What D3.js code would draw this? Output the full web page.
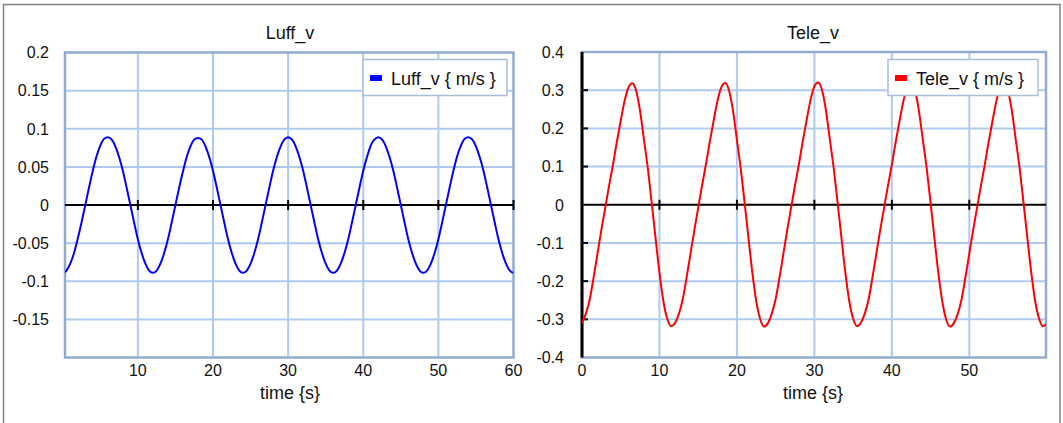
<!DOCTYPE html>
<html>
<head>
<meta charset="utf-8">
<script src="https://cdn.jsdelivr.net/npm/d3@7"></script>
<style>
  body { margin: 0; background: #fff; }
  svg { display: block; font-family: "Liberation Sans", Arial, sans-serif; }
</style>
</head>
<body>
<svg id="chart" width="1063" height="423"></svg>
<script>
// sample times, every 0.5 s from 0 to 60
var timeS = d3.range(0, 60.5, 0.5);

// Luff_v { m/s }
var luffV = [
  -0.089,-0.086,-0.077,-0.063,-0.044,-0.023,0.000,0.023,0.045,0.064,0.078,0.087,0.089,0.086,0.077,0.063,0.045,0.023,0.000,-0.023,-0.045,-0.063,-0.077,-0.086,
  -0.089,-0.086,-0.077,-0.063,-0.045,-0.023,0.000,0.023,0.044,0.063,0.077,0.086,0.088,0.086,0.077,0.063,0.045,0.023,0.000,-0.023,-0.045,-0.063,-0.077,-0.086,
  -0.089,-0.086,-0.077,-0.063,-0.045,-0.023,0.000,0.023,0.045,0.063,0.077,0.086,0.089,0.086,0.077,0.063,0.045,0.023,0.000,-0.023,-0.045,-0.063,-0.077,-0.086,
  -0.089,-0.086,-0.077,-0.063,-0.045,-0.023,0.000,0.023,0.045,0.063,0.078,0.086,0.089,0.086,0.077,0.063,0.045,0.023,0.000,-0.023,-0.045,-0.063,-0.077,-0.086,
  -0.089,-0.086,-0.077,-0.063,-0.045,-0.023,0.000,0.023,0.045,0.064,0.078,0.087,0.089,0.086,0.077,0.063,0.045,0.023,0.000,-0.023,-0.045,-0.063,-0.077,-0.086,
  -0.089
];

// Tele_v { m/s }
var teleV = [
  -0.309,-0.285,-0.248,-0.190,-0.128,-0.066,-0.008,0.050,0.105,0.165,0.220,0.272,0.307,0.318,0.298,0.245,0.170,0.095,0.005,-0.088,-0.178,-0.252,-0.298,-0.318,
  -0.310,-0.286,-0.248,-0.191,-0.129,-0.067,-0.008,0.050,0.106,0.165,0.221,0.273,0.308,0.319,0.298,0.245,0.170,0.094,0.004,-0.089,-0.179,-0.253,-0.299,-0.319,
  -0.310,-0.285,-0.247,-0.190,-0.128,-0.066,-0.007,0.051,0.106,0.166,0.222,0.274,0.310,0.320,0.299,0.246,0.170,0.095,0.005,-0.088,-0.178,-0.252,-0.298,-0.318,
  -0.309,-0.285,-0.248,-0.190,-0.128,-0.066,-0.008,0.050,0.105,0.165,0.220,0.272,0.307,0.318,0.298,0.245,0.170,0.095,0.005,-0.088,-0.178,-0.252,-0.299,-0.319,
  -0.310,-0.286,-0.248,-0.190,-0.128,-0.066,-0.008,0.050,0.105,0.165,0.220,0.272,0.307,0.318,0.298,0.245,0.170,0.095,0.005,-0.088,-0.178,-0.252,-0.298,-0.318,
  -0.312
];

var luffYTicks = [0.2, 0.15, 0.1, 0.05, 0, -0.05, -0.1, -0.15];
var luffXTicks = [10, 20, 30, 40, 50, 60];
var teleYTicks = [0.4, 0.3, 0.2, 0.1, 0, -0.1, -0.2, -0.3, -0.4];
var teleXTicks = [0, 10, 20, 30, 40, 50];

var svg = d3.select("#chart");

// outer frame of the window
svg.append("rect")
  .attr("x", 3.5).attr("y", 4.5)
  .attr("width", 1056.5).attr("height", 440)
  .attr("fill", "none")
  .attr("stroke", "#808080")
  .attr("stroke-width", 1.5);

function drawPanel(cfg) {
  var x = d3.scaleLinear().domain(cfg.xDomain).range([cfg.left, cfg.right]);
  var y = d3.scaleLinear().domain(cfg.yDomain).range([cfg.bottom, cfg.top]);
  var g = svg.append("g");

  g.append("clipPath").attr("id", cfg.id + "-clip")
    .append("rect")
    .attr("x", cfg.left).attr("y", cfg.top)
    .attr("width", cfg.right - cfg.left).attr("height", cfg.bottom - cfg.top);

  // grid
  var gridX = cfg.xTicks.filter(d => d > cfg.xDomain[0] && d < cfg.xDomain[1]);
  var gridY = cfg.yTicks.filter(d => d !== 0 && d > cfg.yDomain[0] && d < cfg.yDomain[1]);
  g.selectAll(".gx").data(gridX).join("line")
    .attr("x1", d => x(d)).attr("x2", d => x(d))
    .attr("y1", cfg.top).attr("y2", cfg.bottom)
    .attr("stroke", "#aecbef").attr("stroke-width", 2);
  g.selectAll(".gy").data(gridY).join("line")
    .attr("x1", cfg.left).attr("x2", cfg.right)
    .attr("y1", d => y(d)).attr("y2", d => y(d))
    .attr("stroke", "#aecbef").attr("stroke-width", 2);

  // plot border
  g.append("rect")
    .attr("x", cfg.left).attr("y", cfg.top)
    .attr("width", cfg.right - cfg.left).attr("height", cfg.bottom - cfg.top)
    .attr("fill", "none")
    .attr("stroke", "#93acce")
    .attr("stroke-width", 2.5);

  // zero line with its ticks
  g.append("line")
    .attr("x1", cfg.left).attr("x2", cfg.right)
    .attr("y1", y(0)).attr("y2", y(0))
    .attr("stroke", "#000").attr("stroke-width", 2);
  g.selectAll(".zt").data(cfg.xTicks.filter(d => d > cfg.xDomain[0])).join("line")
    .attr("x1", d => x(d)).attr("x2", d => x(d))
    .attr("y1", y(0) - 5).attr("y2", y(0) + 5)
    .attr("stroke", "#000").attr("stroke-width", 2);

  // vertical axis at t = 0 when it is in view
  if (cfg.xDomain[0] === 0) {
    g.append("line")
      .attr("x1", x(0)).attr("x2", x(0))
      .attr("y1", cfg.top).attr("y2", cfg.bottom)
      .attr("stroke", "#000").attr("stroke-width", 3);
    g.selectAll(".yt").data(gridY).join("line")
      .attr("x1", x(0)).attr("x2", x(0) + 6)
      .attr("y1", d => y(d)).attr("y2", d => y(d))
      .attr("stroke", "#000").attr("stroke-width", 2);
  }

  // the series
  var line = d3.line()
    .x((d, i) => x(timeS[i]))
    .y(d => y(d))
    .curve(d3.curveMonotoneX);
  g.append("path")
    .datum(cfg.values)
    .attr("clip-path", "url(#" + cfg.id + "-clip)")
    .attr("fill", "none")
    .attr("stroke", cfg.color)
    .attr("stroke-width", 2)
    .attr("d", line);

  // tick labels
  g.selectAll(".yl").data(cfg.yTicks).join("text")
    .attr("x", cfg.left - cfg.yLabelGap)
    .attr("y", d => y(d))
    .attr("dy", "0.36em")
    .attr("text-anchor", "end")
    .attr("font-size", 16)
    .attr("fill", "#111")
    .text(d => d);
  g.selectAll(".xl").data(cfg.xTicks).join("text")
    .attr("x", d => x(d))
    .attr("y", 376)
    .attr("text-anchor", "middle")
    .attr("font-size", 16)
    .attr("fill", "#111")
    .text(d => d);

  // titles
  g.append("text")
    .attr("x", cfg.titleX).attr("y", 39)
    .attr("text-anchor", "middle")
    .attr("font-size", 18)
    .attr("fill", "#111")
    .text(cfg.title);
  g.append("text")
    .attr("x", cfg.titleX).attr("y", 399)
    .attr("text-anchor", "middle")
    .attr("font-size", 18)
    .attr("fill", "#111")
    .text("time {s}");

  // legend
  var lg = g.append("g").attr("transform", "translate(" + cfg.legendX + ",59.5)");
  lg.append("rect")
    .attr("width", cfg.legendW).attr("height", 36)
    .attr("fill", "#fff")
    .attr("stroke", "#a9bedb")
    .attr("stroke-width", 1.5);
  lg.append("rect")
    .attr("x", 7).attr("y", 15.5)
    .attr("width", 12).attr("height", 6)
    .attr("fill", cfg.color);
  lg.append("text")
    .attr("x", 28).attr("y", 25)
    .attr("font-size", 18)
    .attr("fill", "#111")
    .text(cfg.legend);
}

drawPanel({
  id: "luff", title: "Luff_v", legend: "Luff_v { m/s }",
  values: luffV, color: "#0000ff",
  xDomain: [0.3, 60], yDomain: [-0.2, 0.2],
  xTicks: luffXTicks, yTicks: luffYTicks,
  left: 65, right: 513.5, top: 52.5, bottom: 357.5,
  yLabelGap: 16, titleX: 290, legendX: 363, legendW: 144
});

drawPanel({
  id: "tele", title: "Tele_v", legend: "Tele_v { m/s }",
  values: teleV, color: "#ff0000",
  xDomain: [0, 59.9], yDomain: [-0.4, 0.4],
  xTicks: teleXTicks, yTicks: teleYTicks,
  left: 582, right: 1046, top: 52, bottom: 357.5,
  yLabelGap: 18, titleX: 813, legendX: 888, legendW: 150
});
</script>
</body>
</html>
